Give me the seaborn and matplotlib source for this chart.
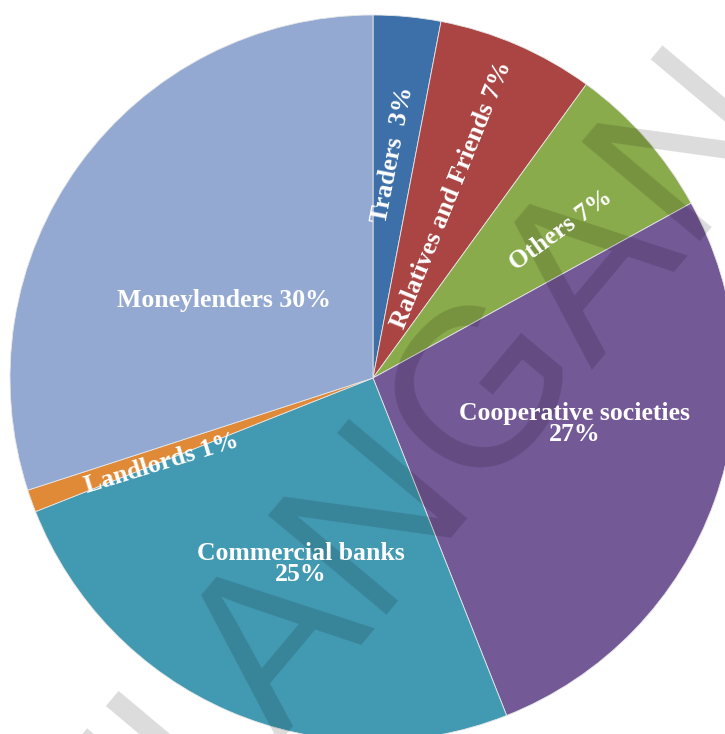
import matplotlib
matplotlib.use("Agg")
import matplotlib.pyplot as plt
import seaborn as sns
import numpy as np

sns.set_theme(style="white")
plt.rcParams['font.family'] = ['Liberation Serif', 'DejaVu Serif']

# Data (clockwise from top)
categories = ["Traders", "Ralatives and Friends", "Others", "Cooperative societies",
              "Commercial banks", "Landlords", "Moneylenders"]
shares = [3, 7, 7, 27, 25, 1, 30]
colors = ["#3d70a9", "#aa4543", "#8aab4b", "#745997", "#4299b2", "#e08937", "#93a9d1"]
label_texts = ["Traders  3%", "Ralatives and Friends 7%", "Others 7%",
               "Cooperative societies\n27%", "Commercial banks\n25%",
               "Landlords 1%", "Moneylenders 30%"]

W, H = 725, 734
fig = plt.figure(figsize=(W / 100, H / 100), dpi=100)
ax = fig.add_axes([0, 0, 1, 1])

cx, cy, R = 373, H - 378, 363
wedges, _ = ax.pie(shares, colors=colors, startangle=90, counterclock=False,
                   center=(cx, cy), radius=R, frame=True,
                   wedgeprops=dict(edgecolor="#e6e6e6", linewidth=0.6))
ax.set_xlim(0, W)
ax.set_ylim(0, H)
ax.set_aspect("equal")
ax.axis("off")

# label layout (pixel positions, y from top) and rotations
label_pos = [(393, 155), (452, 195), (561, 230), (575, 424), (301, 564), (162, 463), (224, 300)]
label_rot = [79, 68, 36, 0, 0, 17, 0]
for txt, (px, py), rot in zip(label_texts, label_pos, label_rot):
    ax.text(px, H - py, txt, rotation=rot, rotation_mode="anchor",
            ha="center", va="center", color="white", fontsize=18.5,
            fontweight="bold", linespacing=0.9, zorder=5)

# watermark
wm_kw = dict(rotation=50, rotation_mode="anchor", ha="center", va="baseline",
             fontsize=162, family="Liberation Sans", color="black",
             alpha=0.14, zorder=4)
ax.text(536, H - 436, "ANGAN", **wm_kw)
ax.text(217, H - 810, "ll", **wm_kw)

fig.savefig("out.png", dpi=100)
